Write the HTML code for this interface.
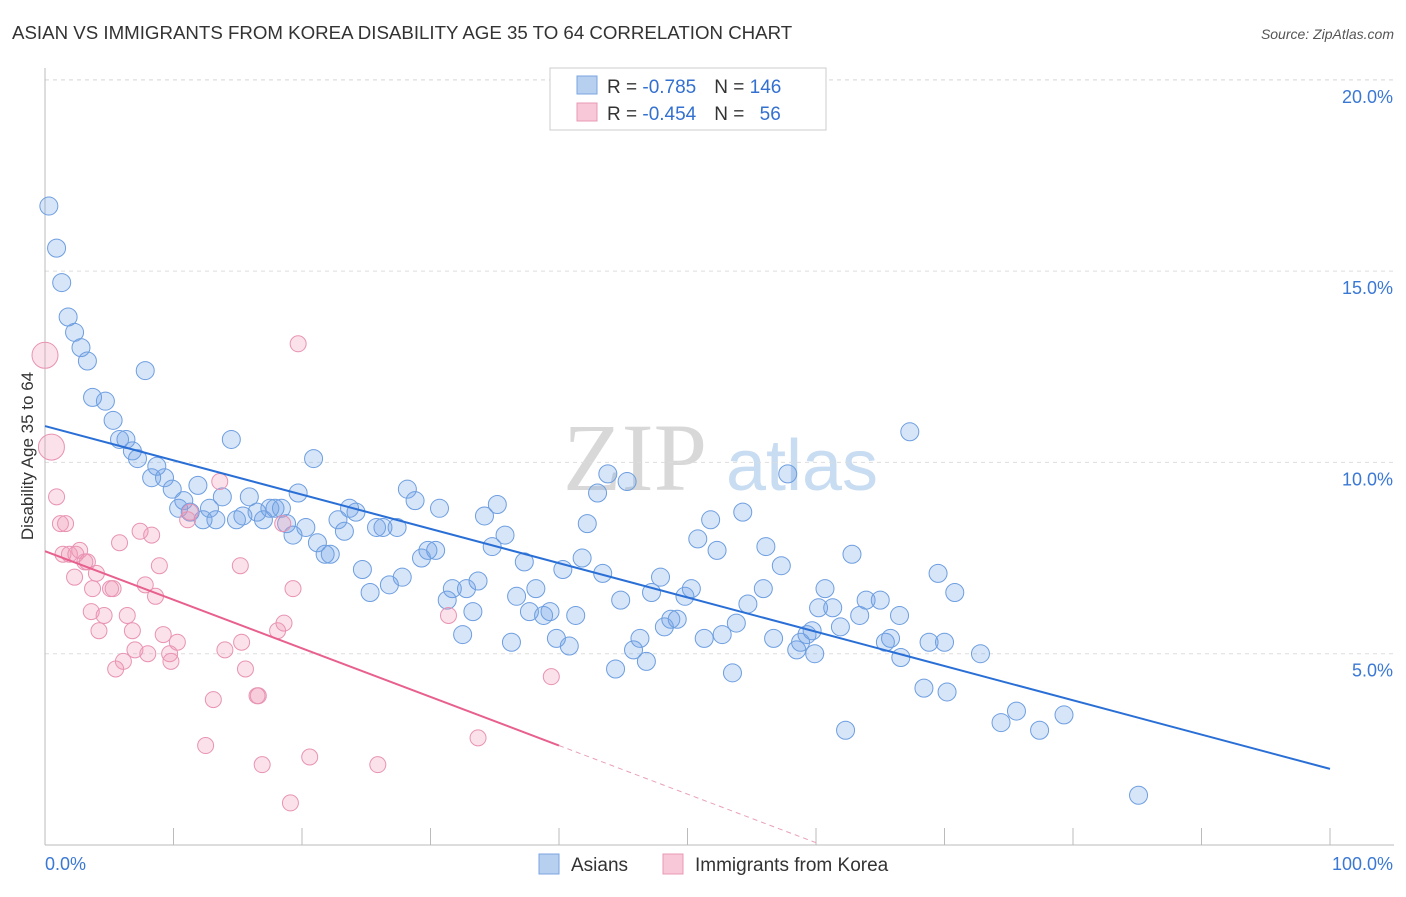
<!DOCTYPE html>
<html><head><meta charset="utf-8"><style>
body{margin:0;background:#fff;font-family:"Liberation Sans",sans-serif}
</style></head><body>
<svg width="1406" height="892" xmlns="http://www.w3.org/2000/svg" font-family="Liberation Sans, sans-serif">
<text x="12" y="39" font-size="18.7" fill="#333">ASIAN VS IMMIGRANTS FROM KOREA DISABILITY AGE 35 TO 64 CORRELATION CHART</text>
<text x="1394" y="39" font-size="14" fill="#555" text-anchor="end" font-style="italic">Source: ZipAtlas.com</text>
<g>
<text x="635" y="490" font-size="96" fill="#d8d8d8" font-family="Liberation Serif, serif" text-anchor="middle">ZIP</text>
<text x="802" y="490" font-size="72" fill="#c8dcf2" text-anchor="middle">atlas</text>
</g>
<g id="grid"></g>
<g id="axes"></g>
<g id="pts"></g>
<g id="lines"></g>
<g>
<rect x="550" y="68" width="276" height="62" fill="#fff" stroke="#ccc"/>
<rect x="577" y="76" width="20" height="18" fill="#b8d0f0" stroke="#7aa5e0"/>
<rect x="577" y="103" width="20" height="18" fill="#f8c8d8" stroke="#e898b5"/>
<text x="607" y="93" font-size="19" fill="#333">R = <tspan fill="#3370d0">-0.785</tspan><tspan dx="18">N = </tspan><tspan fill="#3370d0">146</tspan></text>
<text x="607" y="120" font-size="19" fill="#333">R = <tspan fill="#3370d0">-0.454</tspan><tspan dx="18">N = </tspan><tspan fill="#3370d0" dx="10">56</tspan></text>
</g>
<g>
<rect x="539" y="854" width="20" height="20" fill="#b8d0f0" stroke="#7aa5e0"/>
<text x="571" y="871" font-size="19" fill="#333">Asians</text>
<rect x="663" y="854" width="20" height="20" fill="#f8c8d8" stroke="#e898b5"/>
<text x="695" y="871" font-size="19" fill="#333">Immigrants from Korea</text>
</g>
<text transform="translate(33,456) rotate(-90)" font-size="17" fill="#333" text-anchor="middle">Disability Age 35 to 64</text>
</svg>
<script>
const yTicks=[5,10,15,20];
const yTickLabels=["5.0%","10.0%","15.0%","20.0%"];
const xLabels=["0.0%","100.0%"];
const asianX=[0.3,0.9,1.3,1.8,2.3,2.8,3.3,7.8,3.7,4.7,5.3,5.8,6.3,6.8,7.2,8.7,8.3,9.3,9.9,10.8,10.4,11.3,11.9,12.8,12.3,13.3,13.8,14.5,14.9,15.4,15.9,16.5,17.0,17.5,17.9,18.4,18.8,19.3,19.7,20.3,20.9,21.2,21.8,22.2,22.8,23.3,23.7,24.2,24.7,25.3,25.8,26.3,26.8,27.4,27.8,28.2,28.8,29.3,29.8,30.4,30.7,31.3,31.7,32.5,32.8,33.3,33.7,34.2,34.8,35.2,35.8,36.3,36.7,37.3,37.7,38.2,38.8,39.3,39.8,40.3,40.8,41.3,41.8,42.2,43.0,43.4,43.8,44.4,44.8,45.3,45.8,46.3,46.8,47.2,47.9,48.2,48.7,49.2,49.8,50.3,50.8,51.3,51.8,52.3,52.7,53.5,53.8,54.3,54.7,55.9,56.1,56.7,57.3,57.8,58.5,58.8,59.3,59.7,59.9,60.2,60.7,61.3,61.9,62.3,62.8,63.4,63.9,65.0,65.4,65.8,66.5,66.6,67.3,68.4,68.8,69.5,70.0,70.2,70.8,72.8,74.4,75.6,77.4,79.3,85.1];
const asianY=[16.7,15.6,14.7,13.8,13.4,13.0,12.65,12.4,11.7,11.6,11.1,10.6,10.6,10.3,10.1,9.9,9.6,9.6,9.3,9.0,8.8,8.7,9.4,8.8,8.5,8.5,9.1,10.6,8.5,8.6,9.1,8.7,8.5,8.8,8.8,8.8,8.4,8.1,9.2,8.3,10.1,7.9,7.6,7.6,8.5,8.2,8.8,8.7,7.2,6.6,8.3,8.3,6.8,8.3,7.0,9.3,9.0,7.5,7.7,7.7,8.8,6.4,6.7,5.5,6.7,6.1,6.9,8.6,7.8,8.9,8.1,5.3,6.5,7.4,6.1,6.7,6.0,6.1,5.4,7.2,5.2,6.0,7.5,8.4,9.2,7.1,9.7,4.6,6.4,9.5,5.1,5.4,4.8,6.6,7.0,5.7,5.9,5.9,6.5,6.7,8.0,5.4,8.5,7.7,5.5,4.5,5.8,8.7,6.3,6.7,7.8,5.4,7.3,9.7,5.1,5.3,5.5,5.6,5.0,6.2,6.7,6.2,5.7,3.0,7.6,6.0,6.4,6.4,5.3,5.4,6.0,4.9,10.8,4.1,5.3,7.1,5.3,4.0,6.6,5.0,3.2,3.5,3.0,3.4,1.3];
const koreaX=[0.0,0.5,0.9,1.2,1.6,1.4,1.9,2.4,2.7,3.1,3.3,4.0,2.3,3.7,5.1,5.3,3.6,4.6,4.2,6.4,5.8,7.4,8.3,6.8,9.2,7.0,8.0,9.7,10.3,7.8,8.6,8.9,6.1,5.5,9.8,11.1,11.3,13.6,15.2,14.0,15.3,15.6,13.1,12.5,16.6,16.5,16.9,19.1,20.6,25.9,31.4,33.7,39.4,19.7,18.5,18.1,18.6,19.3];
const koreaY=[12.8,10.4,9.1,8.4,8.4,7.6,7.6,7.6,7.7,7.4,7.4,7.1,7.0,6.7,6.7,6.7,6.1,6.0,5.6,6.0,7.9,8.2,8.1,5.6,5.5,5.1,5.0,5.0,5.3,6.8,6.5,7.3,4.8,4.6,4.8,8.5,8.7,9.5,7.3,5.1,5.3,4.6,3.8,2.6,3.9,3.9,2.1,1.1,2.3,2.1,6.0,2.8,4.4,13.1,8.4,5.6,5.8,6.7];
const koreaBig=[0,1];
const asianFit=[10.95,-0.0896];
const koreaFit=[7.68,-0.127];
const NS="http://www.w3.org/2000/svg";
const X=v=>45+v*12.85, Y=v=>845-v*38.26;
function mk(t,a,p){const e=document.createElementNS(NS,t);for(const k in a)e.setAttribute(k,a[k]);p.appendChild(e);return e;}
const grid=document.getElementById('grid'),axes=document.getElementById('axes'),pts=document.getElementById('pts'),lines=document.getElementById('lines');
yTicks.forEach((t,i)=>{const l=mk('line',{x1:45,x2:1394,y1:Y(t),y2:Y(t),stroke:'#ddd','stroke-dasharray':'4,4'},grid);


const tx=mk('text',{x:1393,y:Y(t)+23,'font-size':18,fill:'#3a78d4','text-anchor':'end'},axes);tx.textContent=yTickLabels[i];

});
const topLine=mk('line',{x1:45,x2:1394,y1:80,y2:80,stroke:'#ddd','stroke-dasharray':'4,4'},grid);


const ya=mk('line',{x1:45,x2:45,y1:68,y2:845,stroke:'#bbb'},axes);


const xa=mk('line',{x1:45,x2:1394,y1:845,y2:845,stroke:'#bbb'},axes);


for(let i=0;i<=10;i++){const tk=mk('line',{x1:X(i*10),x2:X(i*10),y1:828,y2:845,stroke:'#bbb'},axes);

}
[[0,'start',45],[100,'end',1393]].forEach((d,i)=>{const t=mk('text',{x:d[2],y:870,'font-size':18,fill:'#3a78d4','text-anchor':d[1]},axes);t.textContent=xLabels[i];

});
asianX.forEach((x,i)=>{const c=mk('circle',{cx:X(x),cy:Y(asianY[i]),r:9,fill:'rgba(110,160,230,0.28)',stroke:'#6d9ee0','stroke-width':1},pts);

});
koreaX.forEach((x,i)=>{const c=mk('circle',{cx:X(x),cy:Y(koreaY[i]),r:koreaBig.includes(i)?13:8,fill:'rgba(240,150,180,0.28)',stroke:'#e893b3','stroke-width':1},pts);

});
const bl=mk('line',{x1:X(0),y1:Y(asianFit[0]),x2:X(100),y2:Y(asianFit[0]+asianFit[1]*100),stroke:'#2a6fd6','stroke-width':2},lines);


const pl=mk('line',{x1:X(0),y1:Y(koreaFit[0]),x2:X(40),y2:Y(koreaFit[0]+koreaFit[1]*40),stroke:'#e8608e','stroke-width':2},lines);


const pd=mk('line',{x1:X(40),y1:Y(koreaFit[0]+koreaFit[1]*40),x2:X(60),y2:Y(koreaFit[0]+koreaFit[1]*60),stroke:'#e8a0b8','stroke-width':1,'stroke-dasharray':'5,4'},lines);


</script>
</body></html>
